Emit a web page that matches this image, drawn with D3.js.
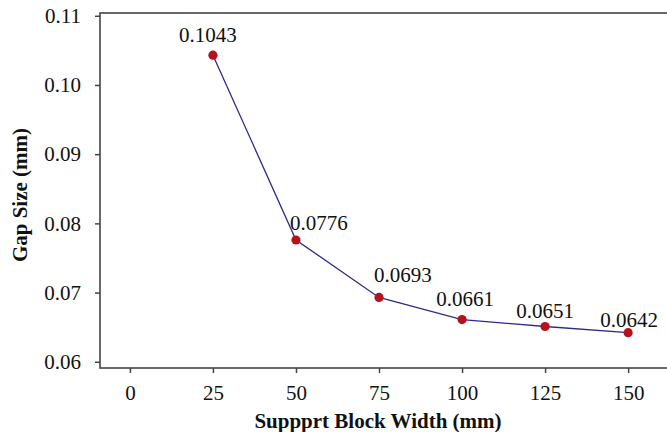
<!DOCTYPE html>
<html>
<head>
<meta charset="utf-8">
<script src="https://cdn.jsdelivr.net/npm/d3@7"></script>
<style>
  body { margin: 0; background: #fff; }
  svg { display: block; }
</style>
</head>
<body>
<div id="chart"></div>
<script>
// Chart values
const widths = [25, 50, 75, 100, 125, 150];
const gaps = [0.1043, 0.0776, 0.0693, 0.0661, 0.0651, 0.0642];
const xTicks = [0, 25, 50, 75, 100, 125, 150];
const yTicks = [0.06, 0.07, 0.08, 0.09, 0.10, 0.11];

function drawLineChart(containerId = "chart") {
    const W = 667, H = 432;
    const left = 100, right = 668, top = 13, bottom = 368;
    const font = "'Liberation Serif', 'Times New Roman', serif";
    const axisColor = "#444";
    const fontSize = "21px";

    // label placement tweaks (dx, dy, anchor) so labels stay clear of the line
    const labelPos = [
        [-5, -13, "middle"],
        [-6, -10, "start"],
        [-5, -15, "start"],
        [3, -14, "middle"],
        [0, -8, "middle"],
        [1, -6, "middle"]
    ];

    const svg = d3.select(`#${containerId}`)
        .append("svg")
        .attr("width", W)
        .attr("height", H);

    const x = d3.scaleLinear().domain([-9, 162]).range([left, right]);
    const y = d3.scaleLinear().domain([0.0591, 0.1104]).range([bottom, top]);

    // X axis
    const gx = svg.append("g")
        .attr("transform", `translate(0,${bottom})`)
        .call(d3.axisBottom(x).tickValues(xTicks).tickSize(5).tickPadding(12).tickSizeOuter(0));
    gx.select(".domain").remove();
    gx.selectAll(".tick line").attr("stroke", axisColor).attr("stroke-width", 1.5);
    gx.selectAll("text")
        .style("font-family", font)
        .style("font-size", fontSize)
        .attr("fill", "#111");

    // Y axis
    const gy = svg.append("g")
        .attr("transform", `translate(${left},0)`)
        .call(d3.axisLeft(y).tickValues(yTicks).tickFormat(d3.format(".2f")).tickSize(5).tickPadding(14).tickSizeOuter(0));
    gy.select(".domain").remove();
    gy.selectAll(".tick line").attr("stroke", axisColor).attr("stroke-width", 1.5);
    gy.selectAll("text")
        .style("font-family", font)
        .style("font-size", fontSize)
        .attr("fill", "#111");

    // Plot frame
    svg.append("rect")
        .attr("x", left)
        .attr("y", top)
        .attr("width", right - left)
        .attr("height", bottom - top)
        .attr("fill", "none")
        .attr("stroke", axisColor)
        .attr("stroke-width", 1.6);

    const data = widths.map((w, i) => ({ w, g: gaps[i] }));

    // Line
    svg.append("path")
        .datum(data)
        .attr("fill", "none")
        .attr("stroke", "#2e2a8c")
        .attr("stroke-width", 1.3)
        .attr("d", d3.line().x(d => x(d.w)).y(d => y(d.g)));

    // Points
    svg.selectAll(".pt")
        .data(data)
        .join("circle")
        .attr("class", "pt")
        .attr("cx", d => x(d.w))
        .attr("cy", d => y(d.g))
        .attr("r", 4.6)
        .attr("fill", "#b5121b");

    // Value labels
    svg.selectAll(".val")
        .data(data)
        .join("text")
        .attr("class", "val")
        .attr("x", (d, i) => x(d.w) + labelPos[i][0])
        .attr("y", (d, i) => y(d.g) + labelPos[i][1])
        .attr("text-anchor", (d, i) => labelPos[i][2])
        .style("font-family", font)
        .style("font-size", fontSize)
        .attr("fill", "#111")
        .text(d => d3.format(".4f")(d.g));

    // X axis title
    svg.append("text")
        .attr("x", 378)
        .attr("y", 428)
        .attr("text-anchor", "middle")
        .style("font-family", font)
        .style("font-size", fontSize)
        .style("font-weight", "bold")
        .attr("fill", "#111")
        .text("Suppprt Block Width (mm)");

    // Y axis title
    svg.append("text")
        .attr("transform", "rotate(-90)")
        .attr("x", -195)
        .attr("y", 27)
        .attr("text-anchor", "middle")
        .style("font-family", font)
        .style("font-size", fontSize)
        .style("font-weight", "bold")
        .attr("fill", "#111")
        .text("Gap Size (mm)");
}

drawLineChart();
</script>
</body>
</html>
